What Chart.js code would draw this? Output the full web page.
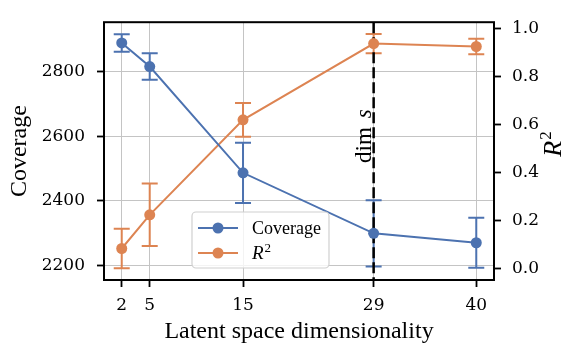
<!DOCTYPE html>
<html><head><meta charset="utf-8">
<script src="https://cdn.jsdelivr.net/npm/chart.js@4.4.1/dist/chart.umd.min.js"></script>
<style>html,body{margin:0;padding:0;background:#fff;overflow:hidden}</style>
</head><body>
<canvas id="c" width="570" height="345" style="width:570px;height:345px;display:block"></canvas>
<script>
// ---- data ----
const dims = [2, 5, 15, 29, 40];
const coverage = [2888, 2815, 2487, 2300, 2271];
const coverageErr = [27, 41, 93, 102, 77];
const r2 = [0.085, 0.225, 0.62, 0.937, 0.925];
const r2Err = [0.082, 0.13, 0.07, 0.04, 0.032];
const xTicks = [2, 5, 15, 29, 40];
const coverageTicks = [2200, 2400, 2600, 2800];
const r2Ticks = [0, 0.2, 0.4, 0.6, 0.8, 1.0];
const dimS = 29;
const seriesLabels = ['Coverage', 'R²'];

const BLUE = '#4C72B0', ORANGE = '#DD8452';
const GRID = '#c4c4c4';
const SERIF = '"Liberation Serif", "Times New Roman", serif';
const TICKFONT = {family: '"DejaVu Serif", serif', size: 17};

const extras = {
  id: 'extras',
  beforeDatasetsDraw(chart) {
    const ctx = chart.ctx, xs = chart.scales.x, a = chart.chartArea;
    ctx.save();
    chart.data.datasets.forEach(ds => {
      const ys = chart.scales[ds.yAxisID];
      ctx.strokeStyle = ds.borderColor;
      ctx.lineWidth = 2;
      ds.data.forEach((p, i) => {
        const e = ds.errs[i];
        const px = xs.getPixelForValue(p.x);
        const t = ys.getPixelForValue(p.y + e), b = ys.getPixelForValue(p.y - e);
        ctx.beginPath();
        ctx.moveTo(px, t); ctx.lineTo(px, b);
        ctx.moveTo(px - 8, t); ctx.lineTo(px + 8, t);
        ctx.moveTo(px - 8, b); ctx.lineTo(px + 8, b);
        ctx.stroke();
      });
    });
    // vertical dashed line
    const vx = xs.getPixelForValue(dimS);
    ctx.strokeStyle = '#000'; ctx.lineWidth = 2.5; ctx.setLineDash([11, 4]);
    ctx.beginPath(); ctx.moveTo(vx, a.top); ctx.lineTo(vx, a.bottom); ctx.stroke();
    ctx.setLineDash([]);
    ctx.restore();
  },
  afterDraw(chart) {
    const ctx = chart.ctx, a = chart.chartArea, xs = chart.scales.x;
    ctx.save();
    // frame
    ctx.strokeStyle = '#000'; ctx.lineWidth = 2;
    ctx.strokeRect(a.left, a.top, a.right - a.left, a.bottom - a.top);
    // dim s label
    const vx = xs.getPixelForValue(dimS);
    ctx.save();
    ctx.translate(vx - 3, 163); ctx.rotate(-Math.PI / 2);
    ctx.fillStyle = '#000'; ctx.textAlign = 'left'; ctx.textBaseline = 'alphabetic';
    ctx.font = '23px ' + SERIF;
    ctx.fillText('dim', 0, 0);
    const w = ctx.measureText('dim').width;
    ctx.font = 'italic 23px ' + SERIF;
    ctx.fillText('s', w + 9, 0);
    ctx.restore();
    // right axis title R^2
    ctx.save();
    ctx.translate(561, 144); ctx.rotate(-Math.PI / 2);
    ctx.fillStyle = '#000'; ctx.textBaseline = 'alphabetic';
    ctx.font = 'italic 26px ' + SERIF;
    const rw = ctx.measureText('R').width;
    ctx.font = '17px ' + SERIF;
    const sw = ctx.measureText('2').width;
    const x0 = -(rw + sw + 1) / 2;
    ctx.font = 'italic 26px ' + SERIF; ctx.textAlign = 'left';
    ctx.fillText('R', x0, 0);
    ctx.font = '17px ' + SERIF;
    ctx.fillText('2', x0 + rw + 1, -10);
    ctx.restore();
    // legend
    const lx = 192, ly = 212, lw = 137, lh = 56;
    ctx.fillStyle = 'rgba(255,255,255,0.8)';
    ctx.strokeStyle = '#d0d0d0'; ctx.lineWidth = 1.2;
    ctx.beginPath();
    if (ctx.roundRect) ctx.roundRect(lx, ly, lw, lh, 4); else ctx.rect(lx, ly, lw, lh);
    ctx.fill(); ctx.stroke();
    const rows = [228, 253];
    chart.data.datasets.forEach((ds, i) => {
      const y = rows[i];
      ctx.strokeStyle = ds.borderColor; ctx.lineWidth = 2;
      ctx.beginPath(); ctx.moveTo(198, y); ctx.lineTo(238, y); ctx.stroke();
      ctx.fillStyle = ds.borderColor;
      ctx.beginPath(); ctx.arc(218, y, 5.5, 0, Math.PI * 2); ctx.fill();
      ctx.fillStyle = '#000'; ctx.textAlign = 'left'; ctx.textBaseline = 'alphabetic';
      if (i === 0) {
        ctx.font = '18px ' + SERIF;
        ctx.fillText(ds.label, 252, y + 6);
      } else {
        ctx.font = 'italic 19px ' + SERIF;
        ctx.fillText('R', 252, y + 6);
        const r = ctx.measureText('R').width;
        ctx.font = '13px ' + SERIF;
        ctx.fillText('2', 252 + r + 1, y - 1);
      }
    });
    ctx.restore();
  }
};

new Chart(document.getElementById('c'), {
  type: 'line',
  data: {
    datasets: [
      {label: seriesLabels[0], data: dims.map((x, i) => ({x, y: coverage[i]})), errs: coverageErr,
       yAxisID: 'y', borderColor: BLUE, backgroundColor: BLUE, borderWidth: 2,
       pointRadius: 5.5, pointBorderWidth: 0, pointHoverRadius: 5.5, tension: 0},
      {label: seriesLabels[1], data: dims.map((x, i) => ({x, y: r2[i]})), errs: r2Err,
       yAxisID: 'y1', borderColor: ORANGE, backgroundColor: ORANGE, borderWidth: 2,
       pointRadius: 5.5, pointBorderWidth: 0, pointHoverRadius: 5.5, tension: 0}
    ]
  },
  options: {
    responsive: false, animation: false, devicePixelRatio: 1,
    layout: {padding: {top: 8, left: 0, right: 0, bottom: 0}},
    plugins: {legend: {display: false}, tooltip: {enabled: false}},
    scales: {
      x: {
        type: 'linear', min: 0.1, max: 41.9,
        afterBuildTicks: s => { s.ticks = xTicks.map(v => ({value: v})); },
        afterFit: s => { s.height = 65; },
        ticks: {font: TICKFONT, color: '#000', padding: 8, autoSkip: false, maxRotation: 0,
                callback: v => String(v)},
        grid: {color: GRID, lineWidth: 1, tickColor: '#000', tickLength: 7, tickWidth: 1.8},
        border: {display: false},
        title: {display: true, text: 'Latent space dimensionality', color: '#000',
                font: {family: SERIF, size: 24, lineHeight: 1}, padding: {top: 0, bottom: 1}}
      },
      y: {
        position: 'left', min: 2156, max: 2952,
        afterBuildTicks: s => { s.ticks = coverageTicks.map(v => ({value: v})); },
        afterFit: s => { s.width = 104; },
        ticks: {font: TICKFONT, color: '#000', padding: 12, callback: v => String(v)},
        grid: {color: GRID, lineWidth: 1, tickColor: '#000', tickLength: 7, tickWidth: 1.8},
        border: {display: false},
        title: {display: true, text: 'Coverage', color: '#000',
                font: {family: SERIF, size: 24, lineHeight: 1}, padding: {top: 8, bottom: 0}}
      },
      y1: {
        position: 'right', min: -0.046, max: 1.026,
        afterBuildTicks: s => { s.ticks = r2Ticks.map(v => ({value: v})); },
        afterFit: s => { s.width = 76; },
        ticks: {font: TICKFONT, color: '#000', padding: 11, callback: v => Number(v).toFixed(1)},
        grid: {drawOnChartArea: false, tickColor: '#000', tickLength: 7, tickWidth: 1.8},
        border: {display: false}
      }
    }
  },
  plugins: [extras]
});
</script>
</body></html>
